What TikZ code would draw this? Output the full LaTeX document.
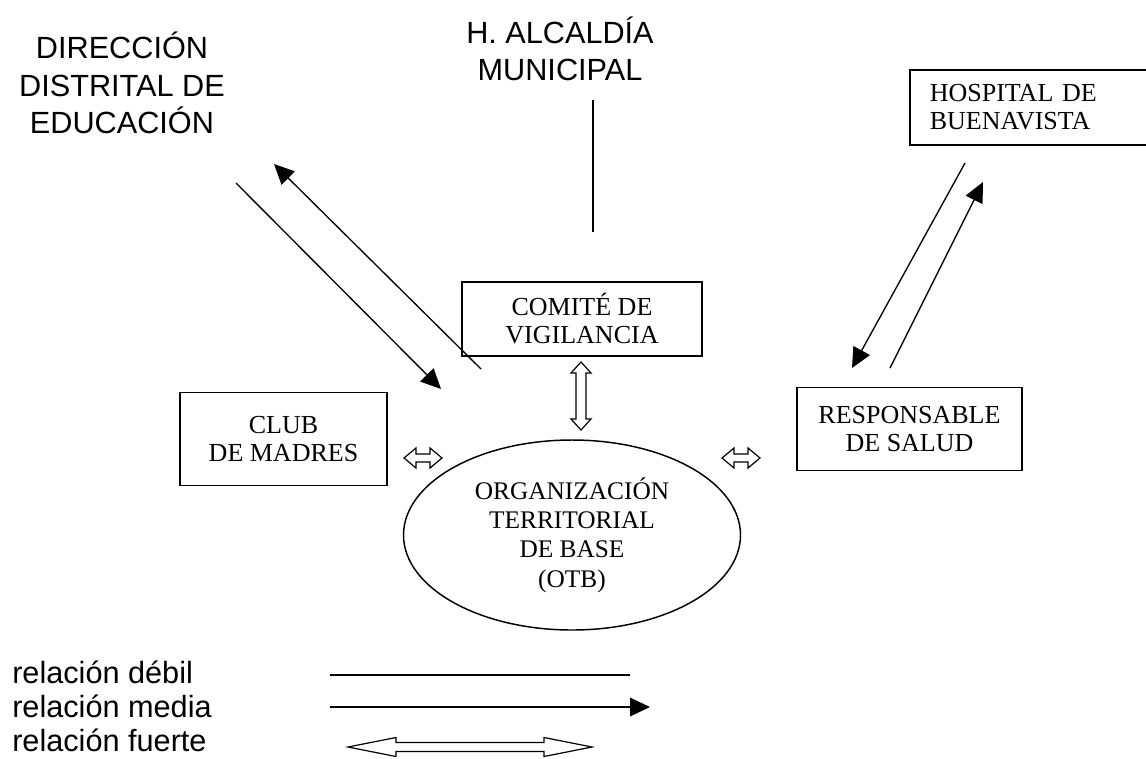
\documentclass[tikz,border=0pt]{standalone}
\usepackage{fontspec}
\setmainfont{Liberation Serif}
\newfontfamily\arialfont{Liberation Sans}
\usetikzlibrary{arrows.meta,shapes.geometric}
\begin{document}
\begin{tikzpicture}[x=0.75pt,y=-0.75pt,
  box/.style={draw, line width=1.2pt, inner sep=0pt, align=center, font=\fontsize{19.5}{21}\selectfont},
  big/.style={align=center, font=\arialfont\fontsize{23}{28}\selectfont, inner sep=0pt},
  legtext/.style={anchor=base west, inner sep=0pt, font=\arialfont\fontsize{23}{26}\selectfont},
  weak/.style={line width=1pt},
  medium/.style={line width=1pt, -{Triangle[length=15pt,width=14pt]}},
  pics/fat/.style args={#1/#2/#3/#4}{code={
    \draw[line width=0.9pt, fill=white, line join=miter]
      (-#1,0) -- (-#1+#2,-#3) -- (-#1+#2,-#4) -- (#1-#2,-#4) -- (#1-#2,-#3) -- (#1,0)
      -- (#1-#2,#3) -- (#1-#2,#4) -- (-#1+#2,#4) -- (-#1+#2,#3) -- cycle;
  }}
]
\useasboundingbox (0,0) rectangle (1146,758);

% top labels
\node[big] (dir) at (122,83) {DIRECCIÓN\\DISTRITAL DE\\EDUCACIÓN};
\node[big] (alc) at (560,49) {H. ALCALDÍA\\MUNICIPAL};

% boxes
\node[box, anchor=west, minimum width=225pt, minimum height=56.25pt,
      text width=195pt, align=left, inner xsep=15pt] (hosp) at (909,107.5) {HOSPITAL DE\\BUENAVISTA};
\node[box, minimum width=180pt, minimum height=55.5pt] (comite) at (582,319) {COMITÉ DE\\VIGILANCIA};
\node[box, minimum width=155.25pt, minimum height=69.75pt] (club) at (283.5,439) {CLUB\\DE MADRES};
\node[box, minimum width=168.75pt, minimum height=62.25pt] (resp) at (909.5,429) {RESPONSABLE\\DE SALUD};
\node[ellipse, draw, line width=1.1pt, minimum width=252.75pt, minimum height=142.5pt, inner sep=0pt,
      align=center, font=\fontsize{19}{22}\selectfont] (otb) at (572,535)
      {ORGANIZACIÓN\\TERRITORIAL\\DE BASE\\(OTB)};

% connector end points
\coordinate (a1) at (593,100);
\coordinate (a2) at (593,232);
\coordinate (d1s) at (236,183);
\coordinate (d1e) at (441,389);
\coordinate (d2s) at (481,369);
\coordinate (d2e) at (274,164);
\coordinate (h1s) at (965,163);
\coordinate (h1e) at (852,368);
\coordinate (h2s) at (890,368);
\coordinate (h2e) at (983,182);

\draw[weak] (a1) -- (a2);
\draw[medium] (d1s) -- (d1e);
\draw[medium] (d2s) -- (d2e);
\draw[medium] (h1s) -- (h1e);
\draw[medium] (h2s) -- (h2e);

% strong relations
\pic at (423,458) {fat=19/12/10/4};
\pic at (741,458) {fat=19/12/10/4};
\pic[rotate=90] at (581,396) {fat=34/11/10/5};

% legend
\node[legtext] (l1) at (12,683) {relación débil};
\node[legtext] (l2) at (12,717) {relación media};
\node[legtext] (l3) at (12,751.5) {relación fuerte};
\coordinate (w1) at (330,675);
\coordinate (w2) at (630,675);
\coordinate (m1) at (330,707);
\coordinate (m2) at (650,707);
\draw[weak] (w1) -- (w2);
\draw[medium] (m1) -- (m2);
\pic at (470,747) {fat=122/48/9.5/4.5};
\end{tikzpicture}
\end{document}
